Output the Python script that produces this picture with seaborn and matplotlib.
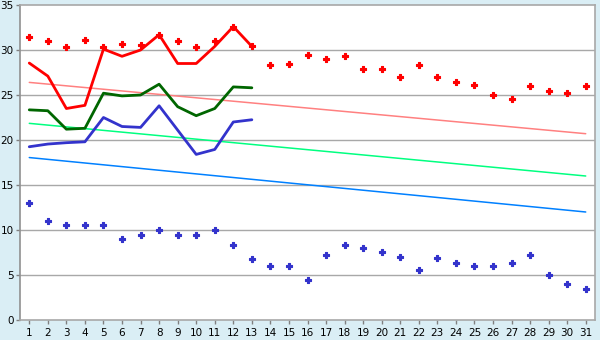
import matplotlib
matplotlib.use("Agg")
import matplotlib.pyplot as plt
import seaborn as sns
import pandas as pd

days = list(range(1, 32))
day_labels = [str(d) for d in days]

record_max = [31.4, 31.0, 30.3, 31.1, 30.3, 30.7, 30.6, 31.7, 31.0, 30.3,
              31.0, 32.6, 30.4, 28.3, 28.5, 29.5, 29.0, 29.3, 27.85, 27.85,
              27.0, 28.3, 27.0, 26.4, 26.1, 25.0, 24.6, 26.0, 25.4, 25.2, 26.0]
record_min = [13.0, 11.0, 10.6, 10.6, 10.6, 9.0, 9.4, 10.0, 9.4, 9.4,
              10.0, 8.3, 6.75, 6.05, 5.95, 4.4, 7.2, 8.3, 7.95, 7.6,
              6.95, 5.6, 6.85, 6.3, 5.95, 5.95, 6.3, 7.2, 4.95, 3.95, 3.5]

obs_days = list(range(1, 14))
obs_max = [28.55, 27.1, 23.5, 23.85, 30.1, 29.3, 30.0, 31.7, 28.5, 28.5, 30.4, 32.6, 30.4]
obs_mean = [23.35, 23.25, 21.2, 21.3, 25.2, 24.9, 25.0, 26.2, 23.7, 22.7, 23.5, 25.9, 25.8]
obs_min = [19.25, 19.55, 19.7, 19.8, 22.5, 21.5, 21.4, 23.8, 21.1, 18.4, 18.95, 22.0, 22.25]

trend_days = [1, 31]
trend_max = [26.4, 20.7]
trend_mean = [21.85, 16.0]
trend_min = [18.05, 12.0]

bg = "#daeef5"
grid_c = "#a8a8a8"

sns.set_theme(style="white")
plt.rcParams["font.family"] = ["DejaVu Sans"]

fig = plt.figure(figsize=(6, 3.4), dpi=100, facecolor=bg)
ax = fig.add_axes([20/600, 20/340, 575/600, 315/340])
ax.set_facecolor("white")

df_rec = pd.DataFrame({"day": days, "max": record_max, "min": record_min})
df_obs = pd.DataFrame({"day": obs_days, "max": obs_max, "mean": obs_mean, "min": obs_min})
df_tr = pd.DataFrame({"day": trend_days, "max": trend_max, "mean": trend_mean, "min": trend_min})

# trend lines
sns.lineplot(data=df_tr, x="day", y="max", ax=ax, color="#ff8080", lw=1.1, zorder=2)
sns.lineplot(data=df_tr, x="day", y="mean", ax=ax, color="#00ff80", lw=1.1, zorder=2)
sns.lineplot(data=df_tr, x="day", y="min", ax=ax, color="#0080ff", lw=1.1, zorder=2)

# observed lines
sns.lineplot(data=df_obs, x="day", y="max", ax=ax, color="#ff0000", lw=2.0, zorder=3)
sns.lineplot(data=df_obs, x="day", y="mean", ax=ax, color="#006600", lw=2.0, zorder=3)
sns.lineplot(data=df_obs, x="day", y="min", ax=ax, color="#3333cc", lw=2.0, zorder=3)

# record points
sns.scatterplot(data=df_rec, x="day", y="max", ax=ax, color="#ff0000", marker="P",
                s=20, linewidth=0.8, edgecolor="#ff0000", zorder=4)
sns.scatterplot(data=df_rec, x="day", y="min", ax=ax, color="#3333cc", marker="P",
                s=20, linewidth=0.8, edgecolor="#3333cc", zorder=4)

ax.set_xlim(0.5, 31.5)
ax.set_ylim(0, 35)
ax.set_xticks(days)
ax.set_xticklabels(day_labels)
ax.set_yticks(range(0, 36, 5))
ax.set_xlabel("")
ax.set_ylabel("")
for y in range(5, 35, 5):
    ax.axhline(y, color=grid_c, lw=1, zorder=1)
for s in ax.spines.values():
    s.set_color(grid_c)
    s.set_linewidth(1.2)
ax.spines["left"].set_color("#909090")
ax.tick_params(axis="both", which="both", length=3, width=1, color="#808080",
               labelsize=7.5, pad=1.5, direction="out", labelcolor="#000000")
ax.tick_params(axis="x", bottom=True, pad=2.5)
ax.tick_params(axis="y", left=True)

fig.savefig("out.png", dpi=100, facecolor=bg)
